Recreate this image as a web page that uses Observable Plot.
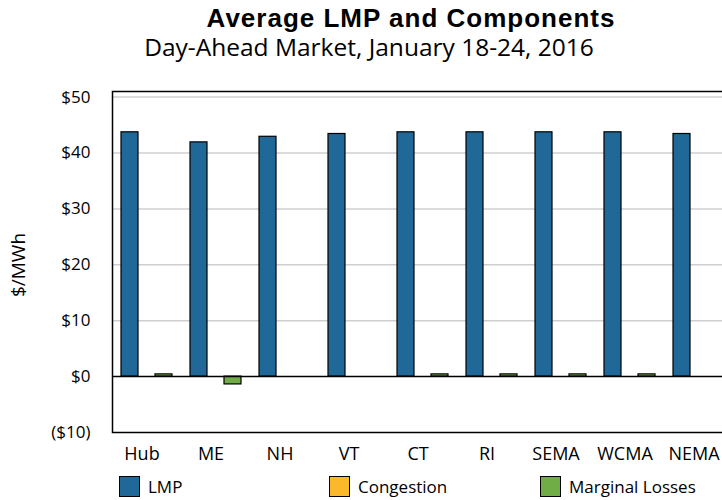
<!DOCTYPE html>
<html>
<head>
<meta charset="utf-8">
<script src="https://cdn.jsdelivr.net/npm/d3@7"></script>
<script src="https://cdn.jsdelivr.net/npm/@observablehq/plot@0.6"></script>
<style>
  html, body { margin: 0; padding: 0; background: white; overflow: hidden; }
  #wrap { position: relative; width: 722px; height: 500px; overflow: hidden; font-family: "Open Sans", sans-serif; color: #000; }
  #header { position: relative; height: 66px; }
  #title { position: absolute; left: 0; width: 822px; top: 4.5px; text-align: center; font-family: "Liberation Sans", Arial, sans-serif; font-weight: bold; font-size: 26px; line-height: 1; letter-spacing: 1px; white-space: nowrap; }
  #subtitle { position: absolute; left: 0; width: 738px; top: 35px; text-align: center; font-size: 24.5px; line-height: 1; white-space: nowrap; }
  #ylabel { position: absolute; left: 18px; top: 265px; transform: translate(-50%, -50%) rotate(-90deg); font-size: 19px; line-height: 1; white-space: nowrap; }
  #chart svg { display: block; overflow: hidden; }
  #legend { position: relative; height: 34px; font-size: 17px; }
  .item { position: absolute; top: 10px; height: 21px; display: flex; align-items: center; white-space: nowrap; }
  .sw { width: 19px; height: 19px; border: 1px solid #000; margin-right: 8px; }
</style>
</head>
<body>
<div id="wrap">
  <div id="header">
    <div id="title">Average LMP and Components</div>
    <div id="subtitle">Day-Ahead Market, January 18-24, 2016</div>
  </div>
  <div id="ylabel">$/MWh</div>
  <div id="chart"></div>
  <div id="legend"></div>
</div>
<script>
const regions = ["Hub", "ME", "NH", "VT", "CT", "RI", "SEMA", "WCMA", "NEMA"];
const lmp = [43.7, 41.9, 42.9, 43.4, 43.7, 43.7, 43.7, 43.7, 43.4];
const congestion = [0, 0, 0, 0, 0, 0, 0, 0, 0];
const losses = [0.4, -1.4, 0, 0, 0.4, 0.4, 0.4, 0.4, 0];
const seriesNames = ["LMP", "Congestion", "Marginal Losses"];
const seriesColors = ["#1f6898", "#fbb82a", "#70ad47"];
const yTicks = [-10, 0, 10, 20, 30, 40, 50];
const gridValues = [10, 20, 30, 40, 50];

const seriesValues = [lmp, congestion, losses];
const rows = seriesNames.map((name, s) =>
  regions.map((region, i) => ({ region, series: name, value: seriesValues[s][i] }))
    .filter(d => d.value !== 0)
);

// per-series position inside each region band (band step ~69px, bars 17px)
const insets = [[9, 43], [26, 26], [43, 9]];

const fmt = d => d < 0 ? `($${-d})` : `$${d}`;

const plot = Plot.plot({
  width: 722,
  height: 400,
  marginTop: 25,
  marginBottom: 34,
  marginLeft: 112,
  marginRight: 0,
  style: { fontFamily: "Open Sans", fontSize: "17px", color: "#000", background: "white" },
  x: { domain: regions, range: [112, 733], padding: 0, label: null, tickSize: 0, tickPadding: 15 },
  y: { domain: [-10, 51], ticks: yTicks, tickFormat: fmt, label: null, tickSize: 0, tickPadding: 22 },
  marks: [
    Plot.ruleY(gridValues, { stroke: "#cfcfcf", strokeWidth: 1.5 }),
    ...rows.map((data, s) => Plot.barY(data, {
      x: "region",
      y: "value",
      fill: seriesColors[s],
      stroke: "#000",
      strokeWidth: 1.2,
      insetLeft: insets[s][0],
      insetRight: insets[s][1]
    })),
    Plot.ruleY([0], { stroke: "#000", strokeWidth: 1.5 }),
    Plot.frame({ stroke: "#000", strokeWidth: 1.5, insetRight: -12 })
  ]
});
document.getElementById("chart").appendChild(plot);
const regionSet = new Set(regions);
plot.querySelectorAll("text").forEach(t => {
  if (regionSet.has(t.textContent)) {
    t.style.fontSize = "18px";
    t.setAttribute("dx", "-5");
  }
});

const legendLeft = [119, 329, 540];
const legend = document.getElementById("legend");
seriesNames.forEach((name, s) => {
  const item = document.createElement("div");
  item.className = "item";
  item.style.left = legendLeft[s] + "px";
  const sw = document.createElement("div");
  sw.className = "sw";
  sw.style.background = seriesColors[s];
  const label = document.createElement("span");
  label.textContent = name;
  item.appendChild(sw);
  item.appendChild(label);
  legend.appendChild(item);
});
</script>
</body>
</html>
